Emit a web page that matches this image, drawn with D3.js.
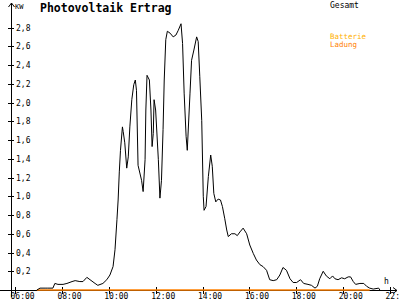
<!DOCTYPE html>
<html lang="de">
<head>
    <meta charset="UTF-8">
    <title>Photovoltaik Ertrag</title>
    <style>
        body {
            margin: 0;
            background-color: #ffffff;
        }
        svg {
            display: block;
        }
        text {
            font-family: "DejaVu Sans Mono", monospace;
        }
        .axis line,
        .axis path {
            stroke: #000;
            shape-rendering: crispEdges;
        }
    </style>
</head>
<body>
<script src="https://d3js.org/d3.v7.min.js"></script>
<script>
    // Gesamt-Ertrag in kW
    var zeiten = ["06:56","07:04","07:17","07:24","07:37","07:42","07:50","08:03","08:13","08:26",
        "08:34","08:46","08:54","09:04","09:12","09:25","09:32","09:45","09:55","10:03",
        "10:11","10:16","10:21","10:24","10:27","10:30","10:35","10:37","10:41","10:46",
        "10:50","10:54","10:59","11:04","11:08","11:11","11:15","11:24","11:28","11:33",
        "11:35","11:38","11:44","11:48","11:51","11:54","11:56","12:00","12:07","12:11",
        "12:15","12:19","12:22","12:26","12:30","12:37","12:45","12:52","12:58","13:05",
        "13:09","13:13","13:18","13:21","13:28","13:32","13:38","13:45","13:49","13:53",
        "13:58","14:02","14:04","14:09","14:15","14:21","14:25","14:29","14:34","14:40",
        "14:46","14:51","14:57","15:02","15:06","15:14","15:23","15:29","15:36","15:44",
        "15:53","16:01","16:10","16:18","16:27","16:35","16:44","16:52","17:01","17:10",
        "17:18","17:26","17:35","17:44","17:52","18:01","18:11","18:19","18:30","18:39",
        "18:48","18:54","19:00","19:09","19:17","19:26","19:33","19:39","19:47","19:56",
        "20:04","20:13","20:19","20:26","20:32","20:43","20:53","21:00","21:08","21:17",
        "21:31","21:34"];
    var gesamt = [0.00,0.02,0.02,0.02,0.02,0.07,0.06,0.06,0.07,0.09,
        0.10,0.09,0.09,0.135,0.11,0.07,0.05,0.07,0.11,0.16,
        0.25,0.43,0.75,0.96,1.26,1.49,1.74,1.69,1.57,1.30,
        1.42,1.74,2.03,2.19,2.24,2.13,1.33,1.17,1.05,1.39,
        1.92,2.29,2.24,1.92,1.53,1.67,2.03,1.92,1.39,0.98,
        1.17,1.71,2.24,2.67,2.76,2.74,2.70,2.72,2.77,2.84,
        2.63,2.10,1.64,1.49,2.10,2.45,2.56,2.70,2.65,2.28,
        1.81,1.00,0.85,0.89,1.21,1.44,1.32,1.03,0.94,0.97,
        0.96,0.89,0.76,0.64,0.57,0.60,0.60,0.58,0.62,0.66,
        0.60,0.48,0.39,0.32,0.27,0.25,0.21,0.11,0.10,0.11,
        0.16,0.24,0.21,0.12,0.08,0.08,0.11,0.07,0.06,0.05,
        0.02,0.04,0.12,0.20,0.15,0.12,0.15,0.12,0.11,0.13,
        0.12,0.14,0.14,0.09,0.06,0.07,0.07,0.04,0.02,0.01,
        0.02,0.00];

    // Batterie Ladung in kW
    var ladungZeiten = ["06:56","21:08"];
    var ladung = [0, 0];

    var xTicks = [6, 8, 10, 12, 14, 16, 18, 20, 22];
    var yTicks = [0.2, 0.4, 0.6, 0.8, 1.0, 1.2, 1.4, 1.6, 1.8, 2.0, 2.2, 2.4, 2.6, 2.8];

    var width = 400, height = 300;

    function stunde(s) {
        var p = s.split(":");
        return +p[0] + (+p[1]) / 60;
    }

    var svg = d3.select("body").append("svg")
        .attr("width", width)
        .attr("height", height);

    var xScale = d3.scaleLinear().domain([6, 22]).range([15, 390]);
    var yScale = d3.scaleLinear().domain([0, 2.8]).range([290, 27.5]);

    // Titel und Legende
    svg.append("text")
        .attr("x", 40).attr("y", 12)
        .attr("font-size", 11.5)
        .attr("font-weight", "bold")
        .text("Photovoltaik Ertrag");

    svg.append("text").attr("x", 330).attr("y", 8)
        .attr("font-size", 8).attr("fill", "#000").text("Gesamt");
    svg.append("text").attr("x", 330).attr("y", 38.5)
        .attr("font-size", 7.5).attr("fill", "#ffb000").text("Batterie");
    svg.append("text").attr("x", 330).attr("y", 46.5)
        .attr("font-size", 7.5).attr("fill", "#ff8000").text("Ladung");

    // x Achse
    var xAxis = d3.axisBottom(xScale)
        .tickValues(xTicks)
        .tickSize(4)
        .tickFormat(function(d) { return d3.format("02d")(d) + ":00"; });

    var gx = svg.append("g")
        .attr("class", "axis")
        .attr("transform", "translate(0,290)")
        .call(xAxis);
    gx.select(".domain").remove();
    gx.selectAll(".tick line").attr("y1", -3).attr("y2", 4);
    gx.selectAll(".tick text")
        .attr("font-family", "DejaVu Sans Mono")
        .attr("font-size", 8)
        .attr("fill", "#000")
        .attr("text-anchor", "start")
        .attr("x", -5)
        .attr("y", 9)
        .attr("dy", 0);

    svg.append("line")
        .attr("class", "axis")
        .attr("x1", 0).attr("x2", 397)
        .attr("y1", 290.5).attr("y2", 290.5)
        .attr("stroke", "#000");
    svg.append("path")
        .attr("d", "M393,287.5 L397,290.5 L393,293.5")
        .attr("fill", "none").attr("stroke", "#000");
    svg.append("text").attr("x", 384).attr("y", 284)
        .attr("font-size", 8).text("h");

    // y Achse
    var yAxis = d3.axisLeft(yScale)
        .tickValues(yTicks)
        .tickSize(3)
        .tickFormat(function(d) { return d3.format(".1f")(d).replace(".", ","); });

    var gy = svg.append("g")
        .attr("class", "axis")
        .attr("transform", "translate(11,0)")
        .call(yAxis);
    gy.select(".domain").remove();
    gy.selectAll(".tick line").attr("x1", -3).attr("x2", 3);
    gy.selectAll(".tick text")
        .attr("font-family", "DejaVu Sans Mono")
        .attr("font-size", 8)
        .attr("fill", "#000")
        .attr("text-anchor", "start")
        .attr("x", 5)
        .attr("dy", "0.32em");

    svg.append("line")
        .attr("class", "axis")
        .attr("x1", 11.5).attr("x2", 11.5)
        .attr("y1", 297).attr("y2", 3)
        .attr("stroke", "#000");
    svg.append("path")
        .attr("d", "M8.5,7 L11.5,3 L14.5,7")
        .attr("fill", "none").attr("stroke", "#000");
    svg.append("text").attr("x", 15).attr("y", 9)
        .attr("font-size", 7).text("KW");

    // Linien
    var line = d3.line()
        .x(function(d) { return xScale(d[0]); })
        .y(function(d) { return yScale(d[1]); });

    svg.append("path")
        .datum(ladungZeiten.map(function(t, i) { return [stunde(t), ladung[i]]; }))
        .attr("fill", "none")
        .attr("stroke", "#ff8000")
        .attr("stroke-width", 1.5)
        .attr("d", line);

    svg.append("path")
        .datum(zeiten.map(function(t, i) { return [stunde(t), gesamt[i]]; }))
        .attr("fill", "none")
        .attr("stroke", "#000")
        .attr("stroke-width", 1)
        .attr("d", line);
</script>
</body>
</html>
